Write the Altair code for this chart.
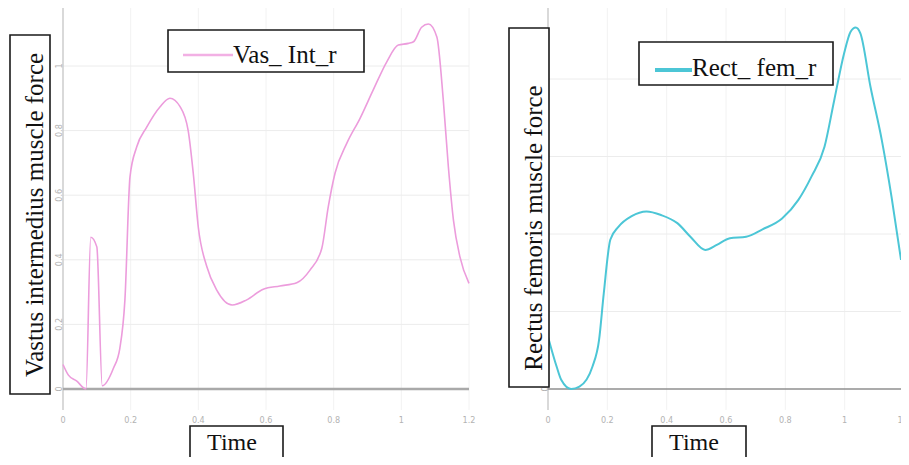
import altair as alt
import pandas as pd

# ---------------- data ----------------
vas_t = [0, 0.016, 0.04, 0.068, 0.082, 0.1, 0.116, 0.149, 0.168, 0.183, 0.198,
         0.218, 0.247, 0.287, 0.316, 0.346, 0.37, 0.385, 0.40, 0.425, 0.454,
         0.50, 0.543, 0.592, 0.641, 0.691, 0.73, 0.765, 0.784, 0.804, 0.839,
         0.878, 0.917, 0.957, 0.991, 1.021, 1.036, 1.06, 1.08, 1.105, 1.124,
         1.139, 1.154, 1.173, 1.2]
vas_v = [0.076, 0.043, 0.025, 0.0, 0.47, 0.44, 0.01, 0.064, 0.126, 0.276, 0.657,
         0.75, 0.81, 0.874, 0.90, 0.874, 0.80, 0.668, 0.50, 0.379, 0.307,
         0.26, 0.276, 0.309, 0.319, 0.329, 0.368, 0.436, 0.564, 0.668, 0.761,
         0.838, 0.926, 1.013, 1.065, 1.07, 1.075, 1.12, 1.13, 1.09, 0.895,
         0.688, 0.523, 0.41, 0.327]

rect_t = [0, 0.029, 0.045, 0.078, 0.106, 0.15, 0.172, 0.188, 0.21, 0.238, 0.282,
          0.332, 0.381, 0.436, 0.48, 0.53, 0.569, 0.613, 0.668, 0.723, 0.789,
          0.844, 0.888, 0.932, 0.965, 0.998, 1.02, 1.037, 1.053, 1.087, 1.125,
          1.158, 1.19]
rect_v = [0.135, 0.058, 0.023, 0.0, 0.006, 0.058, 0.126, 0.247, 0.385, 0.419, 0.446,
          0.458, 0.449, 0.428, 0.393, 0.359, 0.372, 0.389, 0.393, 0.412, 0.44,
          0.488, 0.548, 0.625, 0.746, 0.866, 0.922, 0.933, 0.918, 0.78, 0.643,
          0.496, 0.333]

x_ticks = [0, 0.2, 0.4, 0.6, 0.8, 1.0, 1.2]
x_tick_labels = ["0", "0.2", "0.4", "0.6", "0.8", "1", "1.2"]
left_y_ticks = [0, 0.2, 0.4, 0.6, 0.8, 1.0]
left_y_labels = ["0", "0.2", "0.4", "0.6", "0.8", "1"]
right_y_ticks = [0, 0.2, 0.4, 0.6, 0.8]
right_y_labels = ["0", "0.2", "0.4", "0.6", "0.8"]

left_series = "Vas_ Int_r"
right_series = "Rect_ fem_r"
left_ytitle = "Vastus intermedius muscle force"
right_ytitle = "Rectus femoris muscle force"
xtitle = "Time"

# ---------------- layout / style ----------------
W, H = 893, 449
SERIF = "Liberation Serif, Times New Roman, serif"
TICKFONT = "DejaVu Sans Condensed, Liberation Sans Narrow, sans-serif"
PINK = "#ec9cdc"
CYAN = "#4cc6d6"

panels = {
    "L": dict(xr=[55, 461], yr=[381, 58], ylo=-0.065, yhi=1.19, xlab_y=-0.096,
              ylab_x=-0.013, yticks=left_y_ticks, ylabels=left_y_labels,
              zero_color="#a9a9a9", zero_w=2.5),
    "R": dict(xr=[540, 896], yr=[381, -6.5], ylo=-0.054, yhi=0.985, xlab_y=-0.08,
              ylab_x=-0.01, yticks=right_y_ticks, ylabels=right_y_labels,
              zero_color="#8f8f8f", zero_w=1.5),
}


def X(p, field):
    return alt.X(f"{field}:Q", axis=None,
                 scale=alt.Scale(domain=[0, 1.2], range=panels[p]["xr"], nice=False, zero=False))


def Y(p, field):
    return alt.Y(f"{field}:Q", axis=None,
                 scale=alt.Scale(domain=[0, 1], range=panels[p]["yr"], nice=False, zero=False))


def panel_layers(p, ts, vs, color, width):
    cfg = panels[p]
    layers = []
    vg = pd.DataFrame({"t": x_ticks[1:], "lo": cfg["ylo"], "hi": cfg["yhi"]})
    layers.append(alt.Chart(vg).mark_rule(color="#f2f2f2", strokeWidth=1).encode(
        x=X(p, "t"), y=Y(p, "lo"), y2="hi"))
    hg = pd.DataFrame({"v": cfg["yticks"][1:], "lo": 0.0, "hi": 1.2})
    layers.append(alt.Chart(hg).mark_rule(color="#ececec", strokeWidth=1).encode(
        y=Y(p, "v"), x=X(p, "lo"), x2="hi"))
    ax = pd.DataFrame({"t": [0.0], "lo": [cfg["ylo"]], "hi": [cfg["yhi"]]})
    layers.append(alt.Chart(ax).mark_rule(color="#cccccc", strokeWidth=1.5).encode(
        x=X(p, "t"), y=Y(p, "lo"), y2="hi"))
    zl = pd.DataFrame({"v": [0.0], "lo": [0.0], "hi": [1.2]})
    layers.append(alt.Chart(zl).mark_rule(color=cfg["zero_color"], strokeWidth=cfg["zero_w"]).encode(
        y=Y(p, "v"), x=X(p, "lo"), x2="hi"))
    xl = pd.DataFrame({"t": x_ticks, "v": cfg["xlab_y"], "lab": x_tick_labels})
    layers.append(alt.Chart(xl).mark_text(font=TICKFONT, fontSize=9, color="#b3b3b3",
                                          baseline="middle", align="center").encode(
        x=X(p, "t"), y=Y(p, "v"), text="lab:N"))
    yl = pd.DataFrame({"t": cfg["ylab_x"], "v": cfg["yticks"], "lab": cfg["ylabels"]})
    layers.append(alt.Chart(yl).mark_text(font=TICKFONT, fontSize=9, color="#b3b3b3",
                                          baseline="middle", align="center", angle=270).encode(
        x=X(p, "t"), y=Y(p, "v"), text="lab:N"))
    ln = pd.DataFrame({"t": ts, "v": vs})
    layers.append(alt.Chart(ln).mark_line(color=color, strokeWidth=width,
                                          interpolate="monotone").encode(
        x=X(p, "t"), y=Y(p, "v"), order="t:Q"))
    return layers


layers = []
layers += panel_layers("L", vas_t, vas_v, PINK, 1.6)
layers += panel_layers("R", rect_t, rect_v, CYAN, 2.0)

# annotation boxes (pixel positions)
boxes = pd.DataFrame({
    "x": [160, 631, 2, 501, 182, 644],
    "x2": [356, 825, 42, 541, 275, 738],
    "y": [22, 34, 27, 20, 418, 418],
    "y2": [64, 77, 386, 379, 470, 470],
})
layers.append(alt.Chart(boxes).mark_rect(fill="white", stroke="#1a1a1a", strokeWidth=1.6).encode(
    x=alt.X("x:Q", scale=None), x2="x2", y=alt.Y("y:Q", scale=None), y2="y2"))

samples = pd.DataFrame({"x": [175, 647], "x2": [225, 684], "y": [47, 62],
                        "c": ["#f2b0e4", CYAN], "w": [2.5, 4.0]})
layers.append(alt.Chart(samples).mark_rule().encode(
    x=alt.X("x:Q", scale=None), x2="x2", y=alt.Y("y:Q", scale=None),
    color=alt.Color("c:N", scale=None), strokeWidth=alt.StrokeWidth("w:Q", scale=None)))

ytitles = pd.DataFrame({
    "x": [35, 534], "y": [207, 220], "lab": [left_ytitle, right_ytitle]})
layers.append(alt.Chart(ytitles).mark_text(font=SERIF, fontSize=25, color="#111111",
                                           align="center", baseline="alphabetic",
                                           angle=270).encode(
    x=alt.X("x:Q", scale=None), y=alt.Y("y:Q", scale=None), text="lab:N"))

xtitles = pd.DataFrame({"x": [224, 686], "y": [442, 442], "lab": [xtitle, xtitle]})
layers.append(alt.Chart(xtitles).mark_text(font=SERIF, fontSize=24, color="#111111",
                                           align="center", baseline="alphabetic").encode(
    x=alt.X("x:Q", scale=None), y=alt.Y("y:Q", scale=None), text="lab:N"))

legend_txt = pd.DataFrame({"x": [225, 684], "y": [55, 68], "lab": [left_series, right_series]})
layers.append(alt.Chart(legend_txt).mark_text(font=SERIF, fontSize=25, color="#111111",
                                              align="left", baseline="alphabetic").encode(
    x=alt.X("x:Q", scale=None), y=alt.Y("y:Q", scale=None), text="lab:N"))

chart = alt.layer(*layers).resolve_scale(
    x="independent", y="independent", color="independent", strokeWidth="independent"
).properties(width=W, height=H, padding=0, autosize=alt.AutoSizeParams(type="none")
).configure_view(stroke=None)

chart.save("out.html", embed_options={"renderer": "svg", "actions": False})
